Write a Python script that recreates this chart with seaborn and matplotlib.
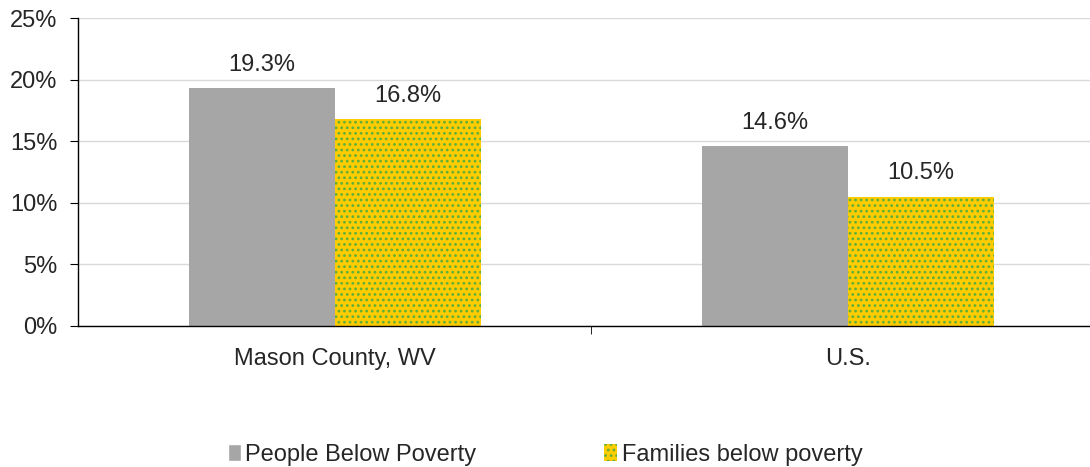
import matplotlib
matplotlib.use('Agg')
import matplotlib.pyplot as plt
import matplotlib.patches as mpatches
import seaborn as sns
import pandas as pd

regions = ['Mason County, WV', 'U.S.']
series = ['People Below Poverty', 'Families below poverty']
people = [19.3, 14.6]
families = [16.8, 10.5]

df = pd.DataFrame({
    'region': regions * 2,
    'series': [series[0]] * 2 + [series[1]] * 2,
    'value': people + families,
})

sns.set_style('white')
plt.rcParams['font.family'] = ['Liberation Sans', 'DejaVu Sans']
plt.rcParams['hatch.linewidth'] = 1.2

gray = '#A6A6A6'
yellow = '#FFCC00'
green = '#5FAF3A'
fs = 17

fig = plt.figure(figsize=(10.9, 4.67), dpi=100)
ax = fig.add_axes([0.072, 0.302, 0.941, 0.659])

sns.barplot(data=df, x='region', y='value', hue='series', palette=[gray, yellow],
            width=0.57, gap=0, saturation=1, ax=ax, legend=False)

for p in ax.containers[1]:
    p.set_hatch('...')
    p.set_edgecolor(green)
    p.set_linewidth(0)
for p in ax.containers[0]:
    p.set_linewidth(0)

for cont in ax.containers:
    ax.bar_label(cont, labels=[f'{v.get_height():.1f}%' for v in cont],
                 padding=9, fontsize=fs)

ax.set_xlim(-0.5, 1.5)
ax.set_ylim(0, 25)
ax.set_yticks([0, 5, 10, 15, 20, 25])
ax.set_yticklabels([f'{t}%' for t in [0, 5, 10, 15, 20, 25]], fontsize=fs)
ax.tick_params(axis='y', length=6, color='black', direction='out', left=True, pad=9)
ax.tick_params(axis='x', which='major', length=0, labelsize=fs, pad=16)
ax.set_xticks([0.5], minor=True)
ax.tick_params(axis='x', which='minor', length=6, color='black', bottom=True)
ax.yaxis.grid(True, color='#D9D9D9', linewidth=1)
ax.set_axisbelow(True)
ax.set_xlabel('')
ax.set_ylabel('')
for s in ['top', 'right']:
    ax.spines[s].set_visible(False)
for s in ['left', 'bottom']:
    ax.spines[s].set_color('black')
    ax.spines[s].set_linewidth(1)

handles = [mpatches.Patch(facecolor=gray, label=series[0]),
           mpatches.Patch(facecolor=yellow, edgecolor=green, linewidth=0, hatch='...', label=series[1])]
fig.legend(handles=handles, loc='center', bbox_to_anchor=(0.5, 0.026), ncol=2,
           frameon=False, fontsize=fs, handlelength=0.55, handleheight=0.7,
           handletextpad=0.2, columnspacing=5.4)

fig.savefig('out.png', dpi=100)
